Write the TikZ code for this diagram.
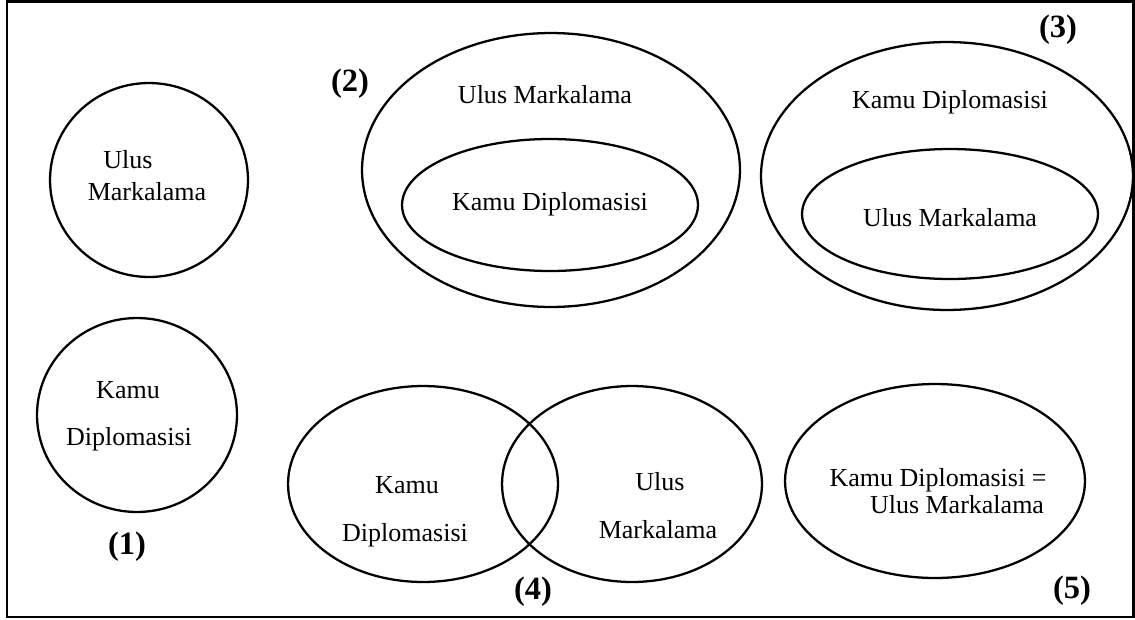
\documentclass[tikz,border=0pt]{standalone}
\usepackage{fontspec}
\setmainfont{Liberation Serif}
\usetikzlibrary{shapes.geometric}

\tikzset{
  setshape/.style={draw, ellipse, line width=1.3pt, inner sep=0pt},
  lbl/.style={anchor=base, font=\fontsize{14.8}{17}\selectfont},
  casenum/.style={anchor=base, font=\fontsize{18.5}{22}\selectfont\bfseries},
}

\begin{document}
\begin{tikzpicture}[x=0.02cm, y=-0.02cm]
            \useasboundingbox (0,0) rectangle (1135,619);
            \draw[line width=1.3pt] (7,1.5) rectangle (1133.5,617);

            % (1) separate sets
            \node[setshape, minimum width=3.96cm, minimum height=3.88cm] (um_alone) at (149,180) {};
            \node[setshape, minimum width=4cm, minimum height=3.88cm] (kd_alone) at (137,415) {};
            \node[lbl] (um_alone_a) at (128,168) {Ulus};
            \node[lbl] (um_alone_b) at (147,200) {Markalama};
            \node[lbl] (kd_alone_a) at (128,398) {Kamu};
            \node[lbl] (kd_alone_b) at (129,445) {Diplomasisi};
            \node[casenum] (case_one) at (127,554) {(1)};

            % (2) public diplomacy inside nation branding
            \node[setshape, minimum width=7.56cm, minimum height=5.48cm] (um_outer) at (551,170) {};
            \node[setshape, minimum width=5.92cm, minimum height=2.64cm] (kd_inner) at (550,205) {};
            \node[lbl] (um_outer_t) at (545,103) {Ulus Markalama};
            \node[lbl] (kd_inner_t) at (550,210) {Kamu Diplomasisi};
            \node[casenum] (case_two) at (350,91) {(2)};

            % (3) nation branding inside public diplomacy
            \node[setshape, minimum width=7.44cm, minimum height=5.36cm] (kd_outer) at (947,176) {};
            \node[setshape, minimum width=5.92cm, minimum height=2.6cm] (um_inner) at (950,214) {};
            \node[lbl] (kd_outer_t) at (950,108) {Kamu Diplomasisi};
            \node[lbl] (um_inner_t) at (950,226) {Ulus Markalama};
            \node[casenum] (case_three) at (1058,37) {(3)};

            % (4) overlapping sets
            \node[setshape, minimum width=5.4cm, minimum height=3.92cm] (kd_left) at (423,484) {};
            \node[setshape, minimum width=5.2cm, minimum height=3.92cm] (um_right) at (632,484) {};
            \node[lbl] (kd_left_a) at (407,493) {Kamu};
            \node[lbl] (kd_left_b) at (405,541) {Diplomasisi};
            \node[lbl] (um_right_a) at (660,490) {Ulus};
            \node[lbl] (um_right_b) at (658,538) {Markalama};
            \node[casenum] (case_four) at (533,599) {(4)};

            % (5) identical sets
            \node[setshape, minimum width=6cm, minimum height=3.88cm] (equal_set) at (935,481) {};
            \node[lbl] (equal_a) at (938,486) {Kamu Diplomasisi =};
            \node[lbl] (equal_b) at (957,513) {Ulus Markalama};
            \node[casenum] (case_five) at (1072,598) {(5)};
        \end{tikzpicture}
\end{document}
